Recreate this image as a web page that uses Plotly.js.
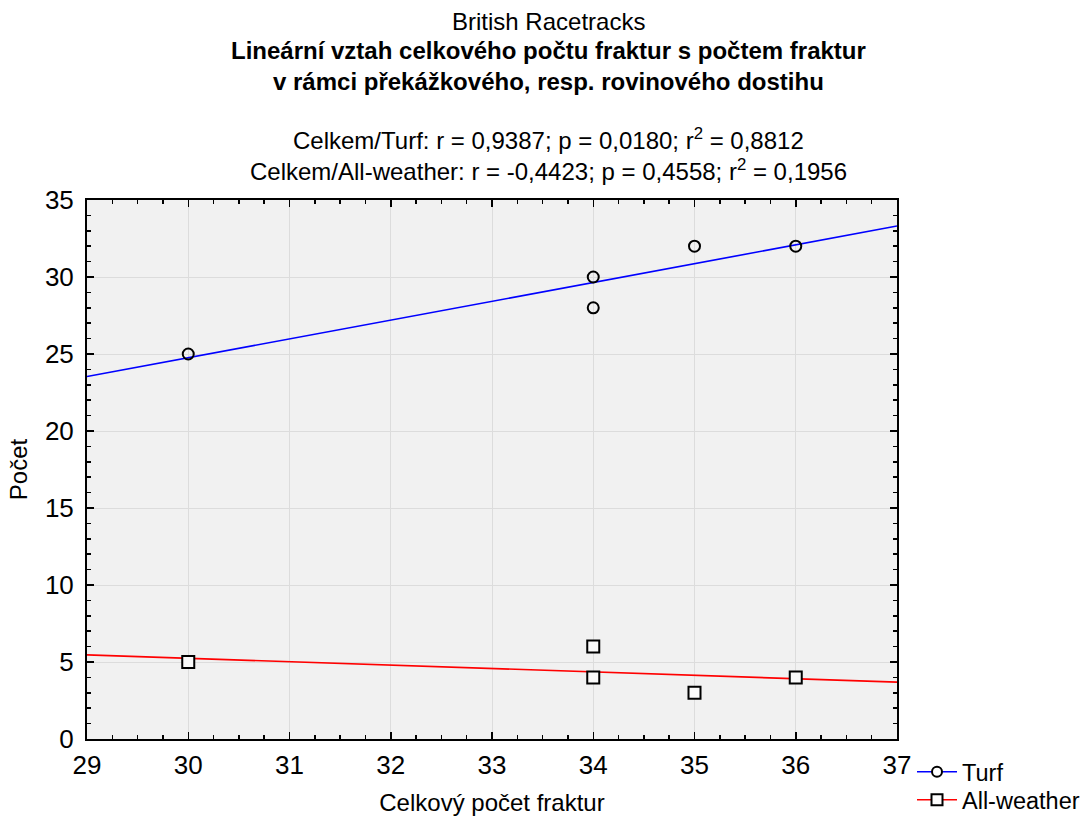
<!DOCTYPE html>
<html><head><meta charset="utf-8">
<script src="https://cdn.plot.ly/plotly-3.0.1.min.js"></script>
<style>html,body{margin:0;padding:0;background:#fff}#chart{width:1087px;height:816px}</style>
</head><body><div id="chart"></div>
<script>
const celkem = [30, 34, 34, 35, 36];
const turf = [25, 30, 28, 32, 32];
const allWeather = [5, 6, 4, 3, 4];
const xTicks = [29, 30, 31, 32, 33, 34, 35, 36, 37];
const yTicks = [0, 5, 10, 15, 20, 25, 30, 35];
const seriesNames = ['Turf', 'All-weather'];
const titleLines = ['British Racetracks', 'Lineární vztah celkového počtu fraktur s počtem fraktur', 'v rámci překážkového, resp. rovinového dostihu'];
const statLines = ['Celkem/Turf: r = 0,9387; p = 0,0180; r<sup>2</sup> = 0,8812', 'Celkem/All-weather: r = -0,4423; p = 0,4558; r<sup>2</sup> = 0,1956'];

function fit(x, y, xr) {
  const n = x.length;
  const mx = x.reduce((a, b) => a + b, 0) / n;
  const my = y.reduce((a, b) => a + b, 0) / n;
  let sxy = 0, sxx = 0;
  for (let i = 0; i < n; i++) { sxy += (x[i] - mx) * (y[i] - my); sxx += (x[i] - mx) ** 2; }
  const b = sxy / sxx, a = my - b * mx;
  return xr.map(v => a + b * v);
}
const xr = [xTicks[0], xTicks[xTicks.length - 1]];
const F = 'Liberation Sans, Arial, sans-serif';

const traces = [
  {x: xr, y: fit(celkem, turf, xr), mode: 'lines', line: {color: '#0000ff', width: 1.6}, showlegend: false, hoverinfo: 'skip'},
  {x: xr, y: fit(celkem, allWeather, xr), mode: 'lines', line: {color: '#ff0000', width: 1.6}, showlegend: false, hoverinfo: 'skip'},
  {x: celkem, y: turf, mode: 'markers', marker: {symbol: 'circle', size: 11, color: 'rgba(0,0,0,0)', line: {color: '#000', width: 2}}, showlegend: false},
  {x: celkem, y: allWeather, mode: 'markers', marker: {symbol: 'square', size: 12, color: '#fafafa', line: {color: '#000', width: 2}}, showlegend: false},
  {x: [null], y: [null], name: seriesNames[0], legend: 'legend', mode: 'lines+markers', line: {color: '#0000ff', width: 1.6}, marker: {symbol: 'circle', size: 10, color: '#fff', line: {color: '#000', width: 2}}},
  {x: [null], y: [null], name: seriesNames[1], legend: 'legend2', mode: 'lines+markers', line: {color: '#ff0000', width: 1.6}, marker: {symbol: 'square', size: 11, color: '#fff', line: {color: '#000', width: 2}}}
];

const ann = [];
const ty = [21, 51, 81];
titleLines.forEach((t, i) => ann.push({text: i === 0 ? t : '<b>' + t + '</b>', xref: 'paper', yref: 'paper', x: (548 - 87) / 810, y: 1 + (200 - ty[i]) / 539, xanchor: 'center', yanchor: 'middle', showarrow: false, font: {family: F, size: 24, color: '#000'}}));
const sy = [139, 170];
statLines.forEach((t, i) => ann.push({text: t, xref: 'paper', yref: 'paper', x: (548 - 87) / 810, y: 1 + (200 - sy[i]) / 539, xanchor: 'center', yanchor: 'middle', showarrow: false, font: {family: F, size: 24, color: '#000'}}));

const axisCommon = {
  showline: true, linecolor: '#000', linewidth: 2, mirror: 'allticks',
  ticks: 'inside', ticklen: 7, tickwidth: 1.5, tickcolor: '#000',
  showgrid: true, gridcolor: '#dcdcdc', gridwidth: 1, zeroline: false, automargin: false,
  tickfont: {family: F, size: 26, color: '#000'}
};
const legendCommon = {xref: 'container', yref: 'container', x: 912 / 1087, xanchor: 'left', yanchor: 'top', bgcolor: 'rgba(0,0,0,0)', font: {family: F, size: 23.5}, itemwidth: 40};

const layout = {
  width: 1087, height: 816,
  margin: {l: 87, r: 190, t: 200, b: 77},
  paper_bgcolor: '#fff', plot_bgcolor: '#f1f1f1',
  font: {family: F, color: '#000'},
  xaxis: Object.assign({}, axisCommon, {range: xr, tickvals: xTicks, ticktext: xTicks.map(String), ticklabelstandoff: 2,
    minor: {dtick: 0.25, ticks: 'inside', ticklen: 4, tickcolor: '#000', tickwidth: 1.5, showgrid: false},
    title: {text: 'Celkový počet fraktur', font: {family: F, size: 24}, standoff: 15}}),
  yaxis: Object.assign({}, axisCommon, {range: [yTicks[0], yTicks[yTicks.length - 1]], tickvals: yTicks, ticktext: yTicks.map(String), ticklabelstandoff: 6,
    minor: {dtick: 1, ticks: 'inside', ticklen: 4, tickcolor: '#000', tickwidth: 1.5, showgrid: false},
    title: {text: 'Počet', font: {family: F, size: 24}, standoff: 10}}),
  legend: Object.assign({}, legendCommon, {y: 1 - 750 / 816}),
  legend2: Object.assign({}, legendCommon, {y: 1 - 778 / 816}),
  annotations: ann,
  showlegend: true
};
Plotly.newPlot('chart', traces, layout, {displayModeBar: false, staticPlot: true});
</script></body></html>
